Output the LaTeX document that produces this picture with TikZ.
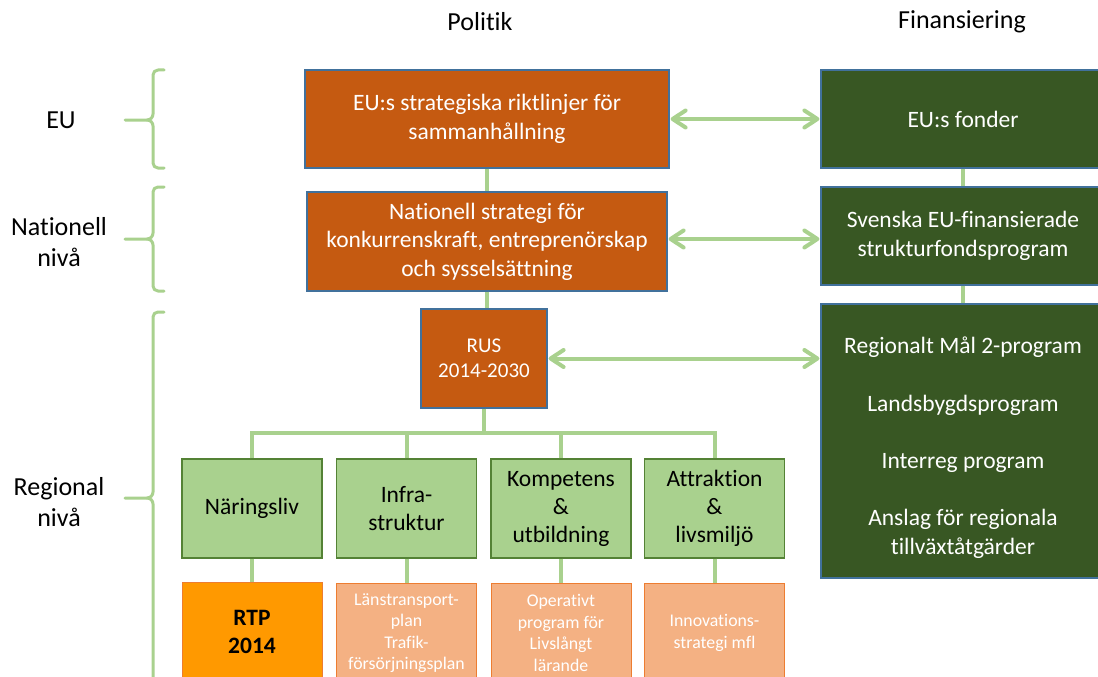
\documentclass[tikz,border=0pt]{standalone}
\usepackage{fontspec}
\setmainfont{Carlito}[Ligatures=NoCommon]
\usetikzlibrary{arrows.meta}

\definecolor{polorange}{HTML}{C55A11}
\definecolor{findark}{HTML}{385723}
\definecolor{edgeblue}{HTML}{41719C}
\definecolor{areagreen}{HTML}{A9D18E}
\definecolor{areaedge}{HTML}{548235}
\definecolor{planfill}{HTML}{F4B183}
\definecolor{planedge}{HTML}{ED7D31}
\definecolor{rtpfill}{HTML}{FF9900}
\definecolor{linkgreen}{HTML}{A9D18E}

\newcommand{\levelbrace}[3]{%
	\draw[bracestyle] (164,#1) -- (158,#1) to[out=180,in=90] (153,#1+5)
		-- (153,#3-6) to[out=-90,in=0] (147,#3) -- (125,#3);
	\draw[bracestyle] (164,#2) -- (158,#2) to[out=180,in=-90] (153,#2-5)
		-- (153,#3+6) to[out=90,in=0] (147,#3);
}

\begin{document}
\begin{tikzpicture}[x=1pt,y=-1pt,
	head/.style={font=\fontsize{26}{31}\selectfont, align=center},
	polbox/.style={fill=polorange, draw=edgeblue, line width=1.2pt, text=white,
		font=\fontsize{23.5}{28.5}\selectfont, align=center, inner sep=0pt},
	finbox/.style={fill=findark, draw=edgeblue, line width=1.2pt, text=white,
		font=\fontsize{23.5}{29}\selectfont, align=center, inner sep=0pt,
		minimum width=284pt},
	fintext/.style={text=white, font=\fontsize{23.5}{29}\selectfont, align=center},
	areabox/.style={fill=areagreen, draw=areaedge, line width=1.2pt,
		font=\fontsize{23.5}{28}\selectfont, align=center, inner sep=0pt,
		minimum width=140pt, minimum height=99pt},
	planbox/.style={fill=planfill, draw=planedge, line width=1pt, text=white,
		font=\fontsize{17.8}{21.5}\selectfont, align=center, inner sep=0pt,
		minimum width=140pt, minimum height=100pt},
	link/.style={draw=linkgreen, line width=4pt},
	biarrow/.style={link, shorten <=1pt, shorten >=1pt,
		{Straight Barb[length=13pt,width=17pt,round]}-{Straight Barb[length=13pt,width=17pt,round]}},
	bracestyle/.style={draw=linkgreen, line width=3pt, line cap=round, line join=round}]

	\useasboundingbox (0,0) rectangle (1098,677);
	\clip (0,0) rectangle (1098,677);

	\node[head] (politik) at (480,22) {Politik};
	\node[head] (finans) at (962,22) {Finansiering};

	\node[head] (lbleu) at (61,120) {EU};
	\node[head] (lblnat) at (59,242) {Nationell\\nivå};
	\node[head] (lblreg) at (59,502) {Regional\\nivå};

	\levelbrace{70}{168}{120}
	\levelbrace{187}{291}{239}
	\levelbrace{312}{720}{498}

	\node[polbox, minimum width=364pt, minimum height=98pt] (eupol) at (487,119)
		{EU:s strategiska riktlinjer för\\sammanhållning};
	\node[polbox, minimum width=360pt, minimum height=99pt] (natpol) at (487,241.5)
		{Nationell strategi för\\konkurrenskraft, entreprenörskap\\och sysselsättning};
	\node[polbox, minimum width=126pt, minimum height=99pt,
		font=\fontsize{21}{25}\selectfont] (rus) at (484,358.5) {RUS\\2014-2030};

	\node[finbox, minimum height=98pt] (eufin) at (963,119) {EU:s fonder};
	\node[finbox, minimum height=98pt] (svfin) at (963,236)
		{Svenska EU-finansierade\\strukturfondsprogram};
	\node[finbox, minimum height=274pt] (regfin) at (963,441) {};
	\node[fintext] (regfintext) at (963,448)
		{Regionalt Mål 2-program\\[29pt]Landsbygdsprogram\\[28pt]Interreg program\\[28pt]Anslag för regionala\\tillväxtåtgärder};

	\node[areabox] (naring) at (252,508.5) {Näringsliv};
	\node[areabox] (infra) at (406.5,508.5) {Infra-\\struktur};
	\node[areabox] (kompet) at (561,508.5) {Kompetens\\\&\\utbildning};
	\node[areabox] (attrak) at (714.5,508.5) {Attraktion\\\&\\livsmiljö};

	\node[planbox, fill=rtpfill, text=black, font=\fontsize{23.5}{28}\selectfont\bfseries]
		(rtp) at (252,632) {RTP\\2014};
	\node[planbox] (lanplan) at (406.5,633)
		{Länstransport-\\plan\\Trafik-\\försörjningsplan};
	\node[planbox] (oppro) at (561,633)
		{Operativt\\program för\\Livslångt\\lärande};
	\node[planbox] (innov) at (714.5,633) {Innovations-\\strategi mfl};

	\coordinate (bus) at (484,433);

	\draw[link] (eupol) -- (natpol);
	\draw[link] (natpol.south) -- (natpol.south |- rus.north);
	\draw[link] (rus.south) -- (bus);
	\draw[link] (naring.north) |- (bus) -| (attrak.north);
	\draw[link] (infra.north) -- (infra.north |- bus);
	\draw[link] (kompet.north) -- (kompet.north |- bus);
	\draw[link] (naring) -- (rtp);
	\draw[link] (infra) -- (lanplan);
	\draw[link] (kompet) -- (oppro);
	\draw[link] (attrak) -- (innov);
	\draw[link] (eufin) -- (svfin);
	\draw[link] (svfin) -- (regfin);

	\draw[biarrow] (eupol.east) -- (eufin.west);
	\draw[biarrow] (natpol.east |- 0,239) -- (svfin.west |- 0,239);
	\draw[biarrow] (rus.east) -- (rus.east -| regfin.west);
\end{tikzpicture}
\end{document}
